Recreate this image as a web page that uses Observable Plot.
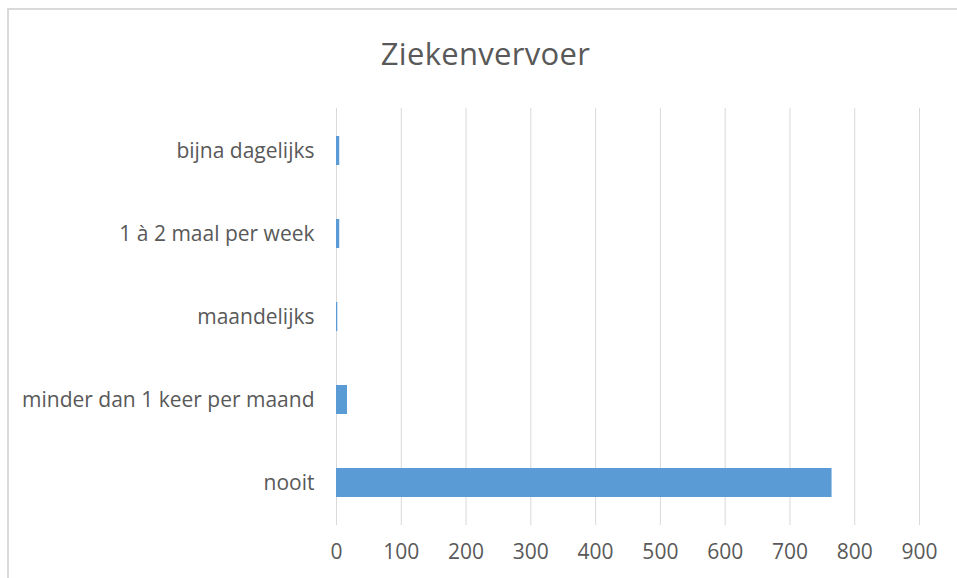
<!DOCTYPE html>
<html>
<head>
<meta charset="utf-8">
<script src="https://cdn.jsdelivr.net/npm/d3@7"></script>
<script src="https://cdn.jsdelivr.net/npm/@observablehq/plot@0.6"></script>
<style>
  html, body { margin: 0; padding: 0; background: #fff; }
  #wrap { position: relative; width: 957px; height: 578px; overflow: hidden; font-family: "Open Sans", "Noto Sans", sans-serif; }
  #frame { position: absolute; left: 7px; top: 8px; width: 960px; height: 580px; border-left: 2px solid #d9d9d9; border-top: 2px solid #d9d9d9; box-sizing: border-box; }
  #title { position: absolute; left: 0; top: 33px; width: 971px; text-align: center; font-size: 31px; line-height: 40px; color: #595959; letter-spacing: 0.3px; }
  #chart { position: absolute; left: 0; top: 0; }
</style>
</head>
<body>
<div id="wrap">
  <div id="frame"></div>
  <div id="chart"></div>
  <div id="title">Ziekenvervoer</div>
</div>
<script>
const categories = ["bijna dagelijks", "1 à 2 maal per week", "maandelijks", "minder dan 1 keer per maand", "nooit"];
const values = [5, 5, 2, 17, 765];
const xTicks = [0, 100, 200, 300, 400, 500, 600, 700, 800, 900];

const data = categories.map((c, i) => ({category: c, value: values[i]}));

const chart = Plot.plot({
  width: 957,
  height: 578,
  marginLeft: 336,
  marginRight: 38,
  marginTop: 108,
  marginBottom: 53,
  style: {fontFamily: "'Open Sans', 'Noto Sans', sans-serif", fontSize: "21px", color: "#595959", background: "transparent"},
  x: {domain: [0, 900], ticks: xTicks, label: null},
  y: {domain: categories, paddingInner: 0.65, paddingOuter: 0.325, label: null},
  marks: [
    Plot.gridX(xTicks, {stroke: "#d9d9d9", strokeOpacity: 1, strokeWidth: 1}),
    Plot.barX(data, {x: "value", y: "category", fill: "#5b9bd5"}),
    Plot.axisX({ticks: xTicks, tickSize: 0, tickPadding: 19, fontSize: 21, fill: "#595959", label: null}),
    Plot.axisY({tickSize: 0, tickPadding: 22, fontSize: 21, fill: "#595959", label: null})
  ]
});
document.getElementById("chart").appendChild(chart);
</script>
</body>
</html>
